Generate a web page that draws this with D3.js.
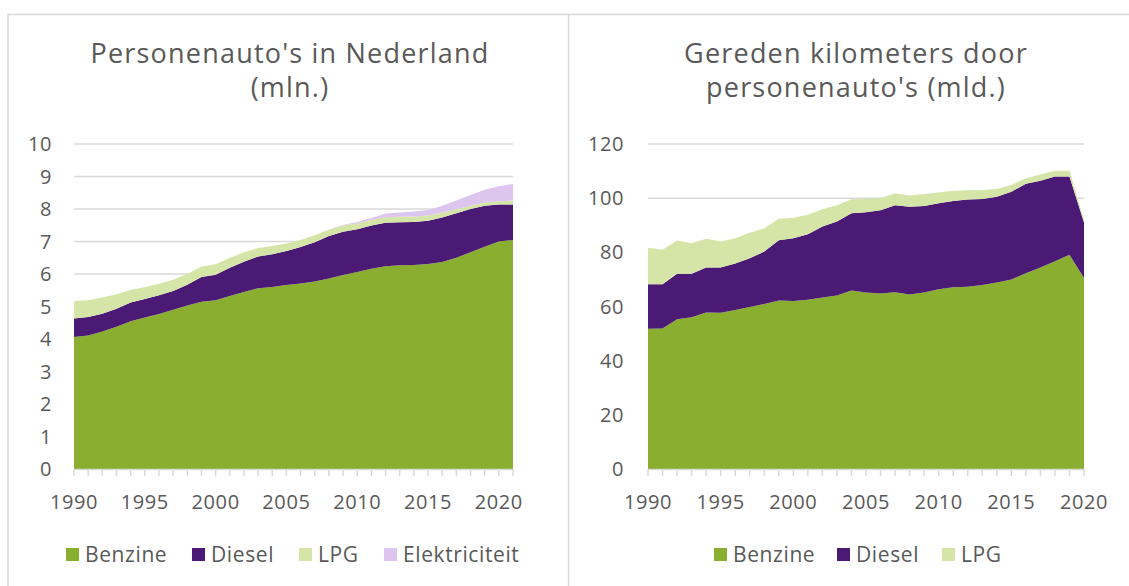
<!DOCTYPE html>
<html lang="nl">
<head>
    <meta charset="UTF-8">
    <title>Personenauto's</title>
    <style>
        body { margin: 0; background: #fff; }
        svg { display: block; }
        text { font-family: "Open Sans", sans-serif; fill: #595959; }
        .title { font-size: 27px; text-anchor: middle; letter-spacing: 1.2px; }
        .tick-label { font-size: 20px; letter-spacing: 0.6px; }
        .legend-label { font-size: 21px; letter-spacing: 0.6px; }
    </style>
</head>
<body>
<svg id="chart" width="1129" height="586"></svg>
<script src="https://d3js.org/d3.v7.min.js"></script>
<script>
    // --- data: personenauto's (mln.) ---
    const jarenAutos = [1990, 1991, 1992, 1993, 1994, 1995, 1996, 1997, 1998, 1999,
        2000, 2001, 2002, 2003, 2004, 2005, 2006, 2007, 2008, 2009,
        2010, 2011, 2012, 2013, 2014, 2015, 2016, 2017, 2018, 2019, 2020, 2021];
    const autosBenzine = [4.06, 4.11, 4.23, 4.38, 4.55, 4.66, 4.77, 4.90, 5.03, 5.15,
        5.19, 5.32, 5.45, 5.56, 5.60, 5.66, 5.71, 5.77, 5.86, 5.97,
        6.06, 6.16, 6.24, 6.27, 6.28, 6.31, 6.37, 6.50, 6.67, 6.84, 7.00, 7.05];
    const autosDiesel = [0.57, 0.57, 0.55, 0.55, 0.57, 0.57, 0.58, 0.58, 0.64, 0.76,
        0.79, 0.87, 0.93, 0.98, 1.01, 1.05, 1.12, 1.21, 1.31, 1.33,
        1.32, 1.33, 1.34, 1.32, 1.32, 1.33, 1.37, 1.37, 1.33, 1.26, 1.14, 1.09];
    const autosLPG = [0.53, 0.51, 0.50, 0.45, 0.39, 0.36, 0.35, 0.34, 0.33, 0.32,
        0.32, 0.30, 0.29, 0.26, 0.25, 0.23, 0.22, 0.21, 0.19, 0.19,
        0.18, 0.17, 0.17, 0.17, 0.17, 0.16, 0.15, 0.12, 0.10, 0.10, 0.10, 0.12];
    const autosElektr = [0, 0, 0, 0, 0, 0, 0, 0, 0, 0,
        0, 0, 0, 0, 0, 0, 0, 0, 0.01, 0.02,
        0.04, 0.06, 0.11, 0.13, 0.15, 0.17, 0.21, 0.27, 0.33, 0.39, 0.46, 0.51];

    // --- data: gereden kilometers (mld.) ---
    const jarenKm = [1990, 1991, 1992, 1993, 1994, 1995, 1996, 1997, 1998, 1999,
        2000, 2001, 2002, 2003, 2004, 2005, 2006, 2007, 2008, 2009,
        2010, 2011, 2012, 2013, 2014, 2015, 2016, 2017, 2018, 2019, 2020];
    const kmBenzine = [51.8, 51.9, 55.3, 56.0, 57.8, 57.7, 58.7, 59.8, 60.9, 62.2,
        62.0, 62.5, 63.3, 64.1, 65.9, 65.2, 64.8, 65.3, 64.4, 65.2,
        66.4, 67.1, 67.3, 67.9, 68.9, 70.0, 72.3, 74.4, 76.7, 79.1, 70.5];
    const kmDiesel = [16.4, 16.3, 16.8, 16.1, 16.6, 16.7, 17.2, 18.0, 19.4, 22.3,
        23.2, 24.2, 26.2, 27.3, 28.5, 29.6, 30.7, 32.1, 32.4, 31.9,
        31.7, 31.9, 32.2, 31.8, 31.6, 32.4, 33.0, 32.0, 31.3, 28.9, 20.5];
    const kmLPG = [13.5, 12.8, 12.3, 11.3, 10.6, 9.6, 9.3, 9.4, 8.5, 7.9,
        7.6, 7.2, 6.4, 6.0, 5.2, 4.9, 4.5, 4.4, 4.2, 4.4,
        4.0, 3.7, 3.4, 3.3, 2.9, 2.5, 2.1, 2.3, 2.1, 2.1, 1.0];

    const jaarLabels = [1990, 1995, 2000, 2005, 2010, 2015, 2020];

    const kleuren = {
        "Benzine": "#8aaf30",
        "Diesel": "#4b1a74",
        "LPG": "#d4e5a7",
        "Elektriciteit": "#dcc5ee"
    };

    const svg = d3.select("#chart");
    const gridKleur = "#d9d9d9";

    // panelranden
    svg.append("path")
        .attr("d", "M8,586 V14.5 H1129 M568.5,14.5 V586")
        .attr("fill", "none")
        .attr("stroke", gridKleur)
        .attr("stroke-width", 1.5);

    function tekenPaneel(cfg) {
        const g = svg.append("g");

        // titel (twee regels)
        const t = g.append("text").attr("class", "title")
            .attr("x", cfg.titelX).attr("y", 63);
        cfg.titel.forEach((regel, i) => {
            t.append("tspan").attr("x", cfg.titelX).attr("dy", i === 0 ? 0 : 34).text(regel);
        });

        const x = d3.scaleLinear()
            .domain(d3.extent(cfg.jaren))
            .range(cfg.xRange);
        const y = d3.scaleLinear()
            .domain([0, cfg.yMax])
            .range([469, 144]);

        // rasterlijnen
        const yTicks = d3.range(0, cfg.yMax + 0.001, cfg.yStap);
        g.selectAll(".grid")
            .data(yTicks.filter(d => d > 0))
            .enter().append("line")
            .attr("x1", cfg.xRange[0]).attr("x2", cfg.xRange[1])
            .attr("y1", d => y(d)).attr("y2", d => y(d))
            .attr("stroke", gridKleur).attr("stroke-width", 1.5);

        // y labels
        g.selectAll(".ylab")
            .data(yTicks)
            .enter().append("text")
            .attr("class", "tick-label")
            .attr("x", cfg.yLabelX)
            .attr("y", d => y(d) + 7)
            .attr("text-anchor", "end")
            .text(d => d);

        // gestapelde vlakken
        const rijen = cfg.jaren.map((jaar, i) => {
            const r = { jaar: jaar };
            cfg.reeksen.forEach(s => r[s.naam] = s.waarden[i]);
            return r;
        });
        const stack = d3.stack().keys(cfg.reeksen.map(s => s.naam));
        const area = d3.area()
            .x(d => x(d.data.jaar))
            .y0(d => y(d[0]))
            .y1(d => y(d[1]));

        g.selectAll(".laag")
            .data(stack(rijen))
            .enter().append("path")
            .attr("fill", d => kleuren[d.key])
            .attr("d", area);

        // x-as met streepjes
        g.append("line")
            .attr("x1", cfg.xRange[0]).attr("x2", cfg.xRange[1])
            .attr("y1", 469.5).attr("y2", 469.5)
            .attr("stroke", gridKleur).attr("stroke-width", 1.5);
        g.selectAll(".xtick")
            .data(cfg.jaren)
            .enter().append("line")
            .attr("x1", d => x(d)).attr("x2", d => x(d))
            .attr("y1", 469).attr("y2", 476)
            .attr("stroke", gridKleur).attr("stroke-width", 1.5);
        g.selectAll(".xlab")
            .data(jaarLabels)
            .enter().append("text")
            .attr("class", "tick-label")
            .attr("x", d => x(d))
            .attr("y", 509)
            .attr("text-anchor", "middle")
            .text(d => d);

        // legenda
        const leg = g.selectAll(".leg")
            .data(cfg.reeksen)
            .enter().append("g")
            .attr("transform", (d, i) => `translate(${cfg.legendaX[i]},548)`);
        leg.append("rect")
            .attr("width", 13).attr("height", 13)
            .attr("fill", d => kleuren[d.naam]);
        leg.append("text")
            .attr("class", "legend-label")
            .attr("x", 19).attr("y", 13.5)
            .text(d => d.naam);
    }

    tekenPaneel({
        titel: ["Personenauto's in Nederland", "(mln.)"],
        titelX: 290,
        jaren: jarenAutos,
        xRange: [74, 513],
        yMax: 10, yStap: 1,
        yLabelX: 52,
        reeksen: [
            { naam: "Benzine", waarden: autosBenzine },
            { naam: "Diesel", waarden: autosDiesel },
            { naam: "LPG", waarden: autosLPG },
            { naam: "Elektriciteit", waarden: autosElektr }
        ],
        legendaX: [66, 192, 299, 384]
    });

    tekenPaneel({
        titel: ["Gereden kilometers door", "personenauto's (mld.)"],
        titelX: 856,
        jaren: jarenKm,
        xRange: [648, 1084],
        yMax: 120, yStap: 20,
        yLabelX: 624,
        reeksen: [
            { naam: "Benzine", waarden: kmBenzine },
            { naam: "Diesel", waarden: kmDiesel },
            { naam: "LPG", waarden: kmLPG }
        ],
        legendaX: [714, 837, 942]
    });
</script>
</body>
</html>
